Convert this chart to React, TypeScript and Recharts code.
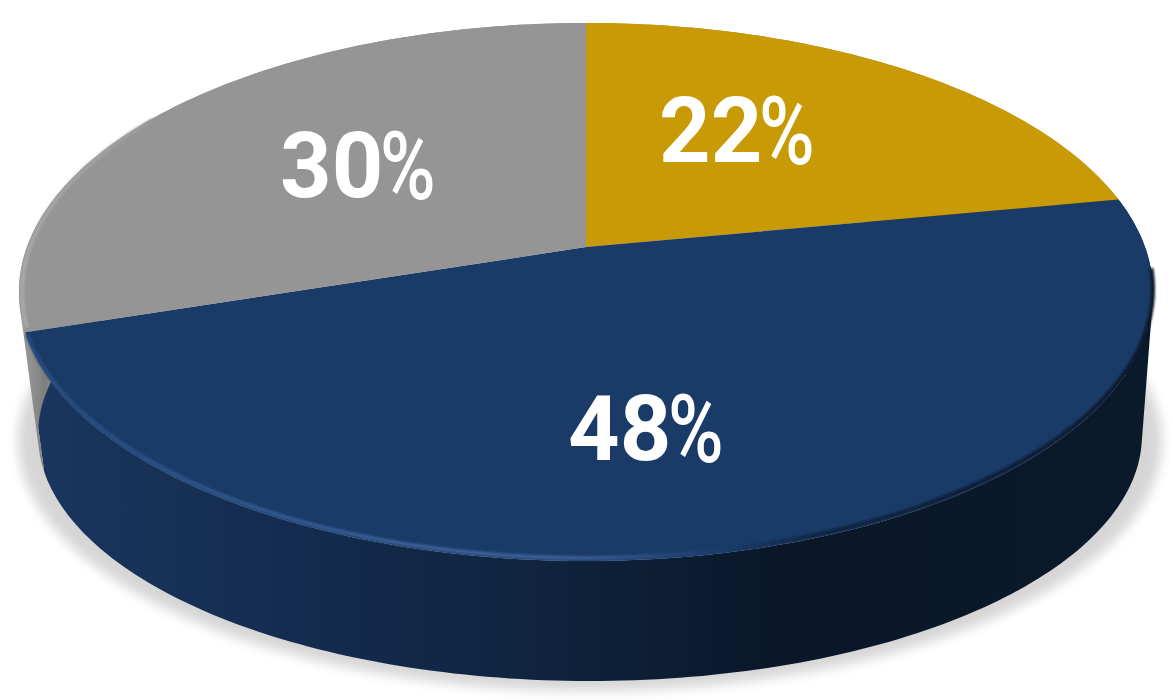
import { PieChart, Pie } from 'recharts'

const categories = ['Gold', 'Blue', 'Gray']
const shares = [22, 48, 30]
const topColors = ['#c79a06', '#1a3b68', '#959595']
const wallFills = ['#a88204', 'url(#wallBlue)', 'url(#wallGray)']
const data = categories.map((name, i) => ({ name, value: shares[i], fill: topColors[i] }))

// ellipses of the upper face and the base, tilt moves the apex up like a perspective would
const TOP = { cx: 586, cy: 292, rx: 567, ry: 269 }
const BASE = { cx: 590, cy: 435, rx: 552, ry: 246 }
const TILT = 0.167

const LABEL_POS = [
  { x: 659, y: 162 },
  { x: 568, y: 460 },
  { x: 280, y: 197 },
]

type Pt = { x: number; y: number }

const project = (deg: number, e: typeof TOP) => {
  const rad = (deg * Math.PI) / 180
  const u = Math.cos(rad)
  const v = -Math.sin(rad)
  const w = 1 - TILT * v
  return {
    x: e.cx + (e.rx * u * Math.sqrt(1 - TILT * TILT)) / w,
    y: e.cy + (e.ry * (v - TILT)) / w,
  }
}

const arcPoints = (start: number, end: number, e: typeof TOP) => {
  const steps = Math.max(2, Math.ceil(Math.abs(end - start)))
  const pts: Pt[] = []
  for (let i = 0; i <= steps; i++) pts.push(project(start + ((end - start) * i) / steps, e))
  return pts
}

const toPath = (pts: Pt[]) =>
  pts.map((p, i) => `${i ? 'L' : 'M'}${p.x.toFixed(2)} ${p.y.toFixed(2)}`).join(' ')

const signedArea = (pts: Pt[]) =>
  pts.reduce((sum, p, i) => {
    const q = pts[(i + 1) % pts.length]
    return sum + p.x * q.y - q.x * p.y
  }, 0)

const apex = () => ({ x: TOP.cx, y: TOP.cy - TOP.ry * TILT })

const TopFace = (props: any) => {
  const { startAngle, endAngle, fill, index } = props
  const arc = arcPoints(startAngle, endAngle, TOP)
  const c = apex()
  const d = `M${c.x} ${c.y} ${toPath(arc).replace('M', 'L')} Z`
  return (
    <g>
      <path d={d} fill={fill} />
      {index === 1 && (
        <path
          d={toPath(arcPoints(startAngle - 16, endAngle + 1, TOP))}
          transform="translate(0,-3)"
          fill="none"
          stroke="url(#rimBlue)"
          strokeWidth={4}
          filter="url(#soft)"
        />
      )}
      {index === 2 && (
        <path
          d={toPath(arcPoints(startAngle - 1, startAngle - 50, TOP))}
          transform="translate(3,0)"
          fill="none"
          stroke="url(#rimGray)"
          strokeWidth={4}
          filter="url(#soft)"
        />
      )}
    </g>
  )
}

// one quad per degree so the outline follows the tangents between the two ellipses,
// all wound the same way or the overlapping ones cancel out
const SideWall = (props: any) => {
  const { startAngle, endAngle, index } = props
  const upper = arcPoints(startAngle, endAngle, TOP)
  const lower = arcPoints(startAngle, endAngle, BASE)
  const quads = upper.slice(1).map((p, i) => {
    const quad = [upper[i], p, lower[i + 1], lower[i]]
    return `${toPath(signedArea(quad) < 0 ? quad.reverse() : quad)} Z`
  })
  return <path d={quads.join(' ')} fill={wallFills[index]} />
}

const PctLabel = (props: any) => {
  const { index } = props
  const pos = LABEL_POS[index]
  return (
    <g fontFamily="Roboto" fill="#fff">
      <text x={pos.x} y={pos.y} fontSize={90} fontWeight={700}>
        {shares[index]}
      </text>
      <text
        transform={`translate(${pos.x + 100},${pos.y + 2}) scale(0.84,1.06)`}
        fontSize={90}
        fontWeight={500}
      >
        %
      </text>
    </g>
  )
}

export default function App() {
  return (
    <div style={{ position: 'absolute', left: 0, top: 0, width: 1173, height: 700 }}>
      <PieChart width={1173} height={700} margin={{ top: 0, right: 0, bottom: 0, left: 0 }}>
        <defs>
          <linearGradient id="wallBlue" gradientUnits="userSpaceOnUse" x1="30" y1="0" x2="1142" y2="0">
            <stop offset="0%" stopColor="#1a365f" />
            <stop offset="30%" stopColor="#12294a" />
            <stop offset="45%" stopColor="#10243f" />
            <stop offset="68%" stopColor="#091728" />
            <stop offset="100%" stopColor="#0b1a2b" />
          </linearGradient>
          <linearGradient id="wallGray" gradientUnits="userSpaceOnUse" x1="19" y1="0" x2="119" y2="0">
            <stop offset="0%" stopColor="#a0a0a0" />
            <stop offset="26%" stopColor="#7e7e7e" />
            <stop offset="41%" stopColor="#959595" />
          </linearGradient>
          <linearGradient id="rimBlue" gradientUnits="userSpaceOnUse" x1="30" y1="0" x2="1150" y2="0">
            <stop offset="0%" stopColor="#264a7e" />
            <stop offset="33%" stopColor="#3a5f96" />
            <stop offset="48%" stopColor="#3a5f96" />
            <stop offset="62%" stopColor="#1a3b68" />
            <stop offset="70%" stopColor="#0f2440" />
            <stop offset="100%" stopColor="#0a1728" />
          </linearGradient>
          <linearGradient id="rimGray" gradientUnits="userSpaceOnUse" x1="19" y1="0" x2="200" y2="0">
            <stop offset="0%" stopColor="#a8a8a8" />
            <stop offset="100%" stopColor="#959595" />
          </linearGradient>
          <filter id="soft" x="-10%" y="-10%" width="120%" height="120%">
            <feGaussianBlur stdDeviation="1.3" />
          </filter>
          <filter id="shadowBlur" x="-10%" y="-10%" width="120%" height="120%">
            <feGaussianBlur stdDeviation="6" />
          </filter>
        </defs>
        <ellipse cx={590} cy={441} rx={572} ry={250} fill="#000" opacity={0.16} filter="url(#shadowBlur)" />
        <Pie
          data={data}
          dataKey="value"
          nameKey="name"
          cx={TOP.cx}
          cy={TOP.cy}
          outerRadius={TOP.rx}
          startAngle={90}
          endAngle={-270}
          stroke="none"
          shape={SideWall}
          isAnimationActive={false}
        />
        <Pie
          data={data}
          dataKey="value"
          nameKey="name"
          cx={TOP.cx}
          cy={TOP.cy}
          outerRadius={TOP.rx}
          startAngle={90}
          endAngle={-270}
          stroke="none"
          shape={TopFace}
          label={PctLabel}
          labelLine={false}
          isAnimationActive={false}
        />
      </PieChart>
    </div>
  )
}
